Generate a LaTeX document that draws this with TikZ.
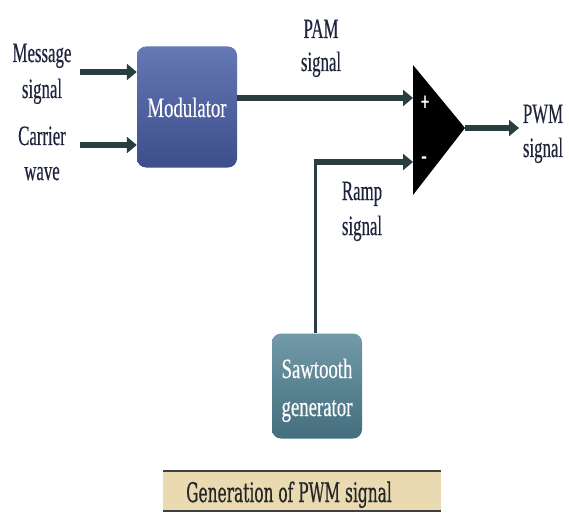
\documentclass[tikz,border=0pt]{standalone}
\usepackage{fontspec}
\setmainfont[FakeStretch=0.6,FakeBold=0.4]{Liberation Serif}
\newfontfamily\blkfont[FakeStretch=0.67,FakeBold=0.3]{Liberation Serif}
\newfontfamily\capfont[FakeStretch=0.57,FakeBold=0.6]{DejaVu Serif}
\usetikzlibrary{arrows.meta}
\definecolor{arrowc}{RGB}{40,62,64}
\definecolor{labelc}{RGB}{30,36,60}
\definecolor{modtop}{RGB}{100,120,180}
\definecolor{modbot}{RGB}{60,78,140}
\definecolor{sawtop}{RGB}{114,154,168}
\definecolor{sawbot}{RGB}{68,110,126}
\definecolor{capbg}{RGB}{233,218,178}
\tikzset{
  sig/.style={draw=arrowc,line width=5.5pt,-{Triangle[length=10pt,width=16pt]}},
  plainline/.style={draw=arrowc,line width=3pt},
  lbl/.style={font=\fontsize{28}{32}\selectfont,text=labelc,inner sep=0pt,anchor=base},
  blk/.style={rounded corners=9pt,draw=none,inner sep=0pt},
  blktxt/.style={text=white,font=\blkfont\fontsize{28}{32}\selectfont,inner sep=0pt,anchor=base},
}
\begin{document}
\begin{tikzpicture}[x=1pt,y=-1pt]
\useasboundingbox (0,0) rectangle (569,513);
% blocks
\node[blk,top color=modtop,bottom color=modbot,minimum width=100pt,minimum height=121pt] (mod) at (187,107) {};
\node[blktxt] (modt) at (187,117) {Modulator};
\node[blk,top color=sawtop,bottom color=sawbot,minimum width=90pt,minimum height=105pt] (saw) at (317,386) {};
\node[blktxt] (saw1) at (317,378) {Sawtooth};
\node[blktxt] (saw2) at (317,416) {generator};
% comparator
\coordinate (cA) at (413,65);
\coordinate (cB) at (413,195);
\coordinate (cC) at (465,128);
\fill[black] (cA) -- (cC) -- (cB) -- cycle;
\node[text=white,font=\fontsize{26}{26}\selectfont\bfseries,inner sep=0pt] (plus) at (425,103) {+};
\node[text=white,font=\fontsize{26}{26}\selectfont\bfseries,inner sep=0pt] (minus) at (424,160) {-};
% labels
\node[lbl] (msg1) at (42,62) {Message};
\node[lbl] (msg2) at (42,98) {signal};
\node[lbl] (car1) at (42,145) {Carrier};
\node[lbl] (car2) at (42,180) {wave};
\node[lbl] (pam1) at (321,38) {PAM};
\node[lbl] (pam2) at (321,71) {signal};
\node[lbl] (ramp1) at (362,200) {Ramp};
\node[lbl] (ramp2) at (362,235) {signal};
\node[lbl] (pwm1) at (543,123) {PWM};
\node[lbl] (pwm2) at (543,157) {signal};
% arrows
\coordinate (mS) at (80,72);
\coordinate (cS) at (80,145);
\draw[sig] (mS) -- (mS -| mod.west);
\draw[sig] (cS) -- (cS -| mod.west);
\coordinate (pS) at (mod.east |- 0,98);
\coordinate (pE) at (413,98);
\draw[sig] (pS) -- (pE);
\coordinate (rC) at (315,162);
\coordinate (rE) at (413,162);
\draw[plainline] (rC |- saw.north) -- (rC);
\draw[sig] ([xshift=-1.5pt]rC) -- (rE);
\coordinate (oE) at (519,128);
\draw[sig] (cC) -- (oE);
% caption
\node[fill=capbg,minimum width=278pt,minimum height=40pt,inner sep=0pt] (cap) at (302,491) {};
\node[font=\capfont\fontsize{27}{30}\selectfont,text=black!85,inner sep=0pt,anchor=base] (capt) at (289,502) {Generation of PWM signal};
\draw[line width=1.8pt,black!75] (cap.north west) -- (cap.north east);
\draw[line width=1.8pt,black!75] (cap.south west) -- (cap.south east);
\end{tikzpicture}
\end{document}
